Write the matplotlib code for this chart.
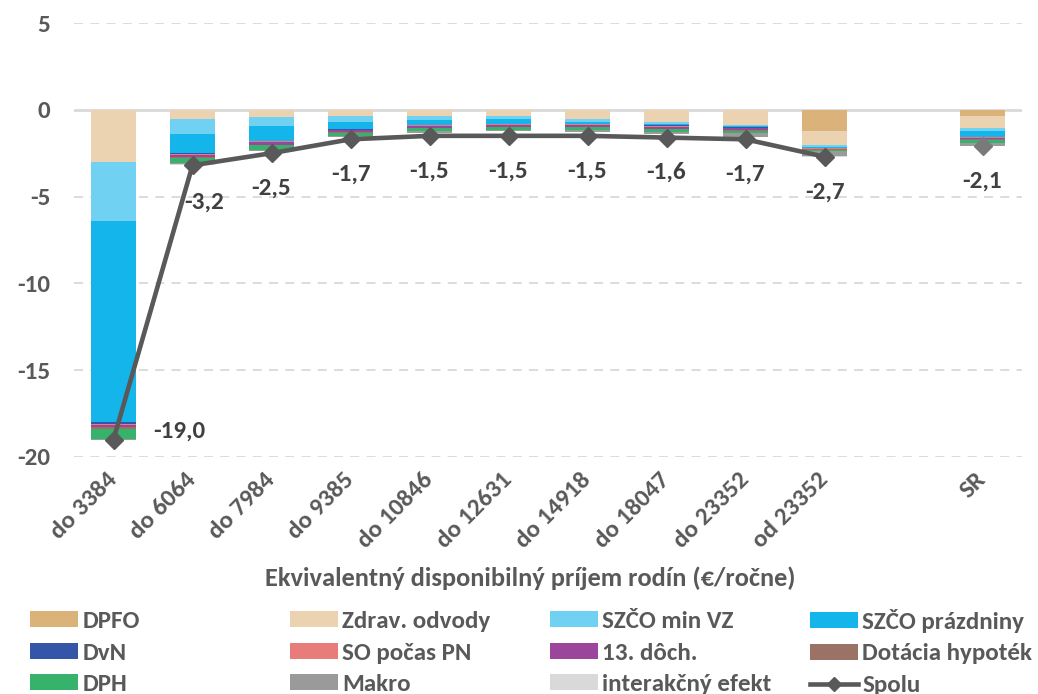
import numpy as np
import matplotlib
matplotlib.use("Agg")
import matplotlib.pyplot as plt
from matplotlib.patches import Patch
from matplotlib.lines import Line2D

plt.rcParams['font.family'] = ['Carlito', 'DejaVu Sans']
plt.rcParams['font.weight'] = 'bold'

categories = ['do 3384', 'do 6064', 'do 7984', 'do 9385', 'do 10846', 'do 12631',
              'do 14918', 'do 18047', 'do 23352', 'od 23352', '', 'SR']

# zlozky (v p.b.), slot 10 je prazdny
dpfo = [0, 0, 0, 0, 0, 0, 0, 0, 0, -1.21, 0, -0.35]
zdrav = [-3.0, -0.52, -0.42, -0.38, -0.35, -0.38, -0.54, -0.73, -0.86, -0.84, 0, -0.71]
szco_vz = [-3.4, -0.86, -0.54, -0.35, -0.23, -0.16, -0.15, -0.07, -0.10, -0.08, 0, -0.15]
szco_prazd = [-11.6, -1.09, -0.81, -0.37, -0.28, -0.26, -0.11, -0.10, -0.04, -0.06, 0, -0.33]
dvn = [-0.08, -0.10, -0.05, -0.04, -0.04, -0.04, -0.04, -0.05, -0.03, -0.03, 0, -0.03]
so_pn = [-0.05, -0.03, -0.03, -0.03, -0.03, -0.03, -0.03, -0.03, -0.03, -0.02, 0, -0.03]
dochodok13 = [-0.12, -0.12, -0.16, -0.12, -0.10, -0.10, -0.10, -0.10, -0.10, -0.03, 0, -0.10]
hypoteky = [-0.12, -0.05, -0.04, -0.03, -0.03, -0.04, -0.04, -0.04, -0.06, -0.02, 0, -0.03]
dph = [-0.60, -0.28, -0.27, -0.17, -0.18, -0.17, -0.17, -0.15, -0.14, -0.07, 0, -0.16]
makro = [-0.05, -0.10, -0.06, -0.06, -0.07, -0.07, -0.09, -0.13, -0.20, -0.30, 0, -0.20]
interakcny = [-0.02, -0.02, -0.02, -0.02, -0.02, -0.02, -0.02, -0.02, -0.02, -0.05, 0, -0.02]
spolu = [-19.0, -3.2, -2.5, -1.7, -1.5, -1.5, -1.5, -1.6, -1.7, -2.7, np.nan, -2.1]

series = [
    ('DPFO', dpfo, '#dcb27b'),
    ('Zdrav. odvody', zdrav, '#ebd2b1'),
    ('SZČO min VZ', szco_vz, '#70d1f3'),
    ('SZČO prázdniny', szco_prazd, '#14b5ea'),
    ('DvN', dvn, '#3556a8'),
    ('SO počas PN', so_pn, '#e87c7a'),
    ('13. dôch.', dochodok13, '#9c469b'),
    ('Dotácia hypoték', hypoteky, '#9a7366'),
    ('DPH', dph, '#37b26a'),
    ('Makro', makro, '#9a9a9a'),
    ('interakčný efekt', interakcny, '#d9d9d9'),
]

txt = '#595959'
fig = plt.figure(figsize=(10.38, 6.94), dpi=100)
ax = fig.add_axes([74 / 1038, 1 - 457 / 694, 948 / 1038, 434 / 694])

x = np.arange(len(categories))
bottom = np.zeros(len(categories))
for name, vals, col in series:
    v = np.array(vals, dtype=float)
    ax.bar(x, v, 0.58, bottom=bottom, color=col, zorder=2)
    bottom += v

sp = np.array(spolu)
ax.plot(x[:10], sp[:10], color='#595959', lw=3.3, marker='D', ms=9, zorder=4)
ax.plot(x[11:], sp[11:], color='#7a7a7a', lw=0, marker='D', ms=9, zorder=4)

for i, v in enumerate(spolu):
    if np.isnan(v):
        continue
    lab = ('%.1f' % v).replace('.', ',')
    if i == 0:
        off = (66, 8)
    elif i == 1:
        off = (12, -37)
    else:
        off = (0, -35)
    ax.annotate(lab, (i, v), xytext=off, textcoords='offset pixels',
                ha='center', va='center', fontsize=18, color='#404040', zorder=5)

ax.set_xlim(-0.5, len(categories) - 0.5)
ax.set_ylim(-20, 5)
ax.set_yticks([5, 0, -5, -10, -15, -20])
ax.set_yticklabels(['5', '0', '-5', '-10', '-15', '-20'])
for yy in [5, -5, -10, -15, -20]:
    ax.axhline(yy, color='#d9d9d9', lw=1.3, ls=(0, (5, 4)), zorder=1)
ax.axhline(0, color='#d9d9d9', lw=2, zorder=1)
for s in ax.spines.values():
    s.set_visible(False)
ax.tick_params(axis='y', length=0, pad=17, labelsize=18, labelcolor=txt)
ax.tick_params(axis='x', length=0, pad=14, labelsize=18, labelcolor=txt)
ax.set_xticks(x)
ax.set_xticklabels(categories, rotation=45, ha='right', va='center', rotation_mode='anchor')

fig.text(0.511, 1 - 578 / 694, 'Ekvivalentný disponibilný príjem rodín (€/ročne)',
         ha='center', va='center', fontsize=19, color=txt)

handles = [Patch(facecolor=c, edgecolor='none') for _, _, c in series]
handles.append(Line2D([], [], color='#595959', lw=3.3, marker='D', ms=7))
labels = [n for n, _, _ in series] + ['Spolu']
col_x = [30, 290, 550, 810]
col_y = [611, 611, 611, 609]
for c in range(4):
    hs = [handles[k] for k in range(c, 12, 4)]
    ls = [labels[k] for k in range(c, 12, 4)]
    leg = fig.legend(hs, ls, loc='upper left', bbox_to_anchor=(col_x[c] / 1038, 1 - col_y[c] / 694),
                     frameon=False, fontsize=18, handlelength=1.9, handleheight=0.6,
                     handletextpad=0.2, labelspacing=0.42, borderpad=0, borderaxespad=0)
    for t in leg.get_texts():
        t.set_color(txt)

fig.savefig('out.png', dpi=100)
